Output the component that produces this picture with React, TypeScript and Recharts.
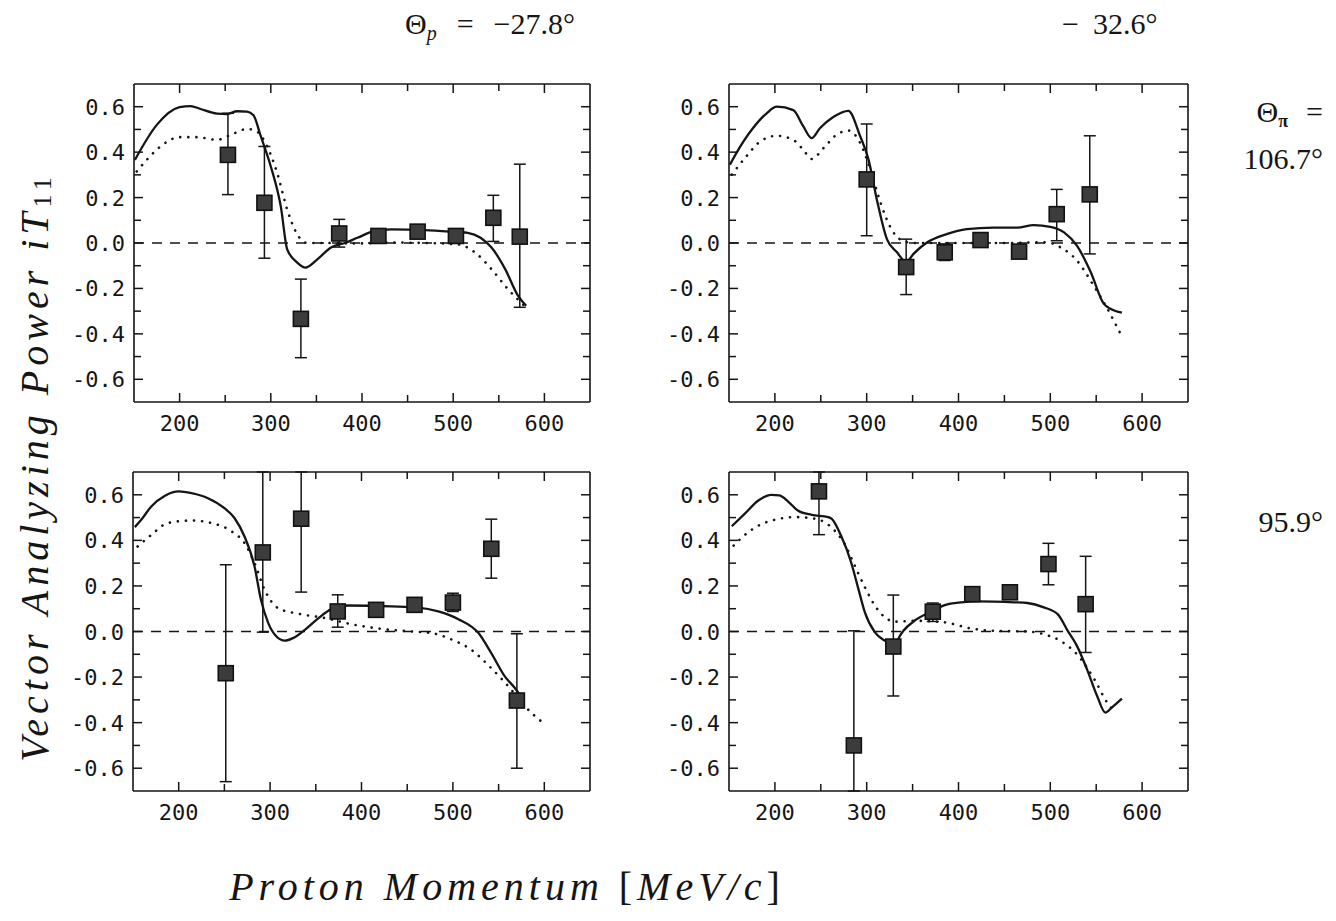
import React from "react";
import {
  ComposedChart,
  Line,
  Scatter,
  ErrorBar,
  XAxis,
  YAxis,
  ReferenceLine,
} from "recharts";

type Pt = [number, number];
// [momentum, iT11, lower end of error bar, upper end of error bar]
type Obs = [number, number, number, number];

const xTicks = [200, 250, 300, 350, 400, 450, 500, 550, 600];
const yTicks = [-0.6, -0.5, -0.4, -0.3, -0.2, -0.1, 0, 0.1, 0.2, 0.3, 0.4, 0.5, 0.6];
const xDomain: [number, number] = [150, 650];
const yDomain: [number, number] = [-0.7, 0.7];

// Θp = -27.8°, Θπ = 106.7°
const tlSolid: Pt[] = [
  [151, 0.366], [175, 0.52], [200, 0.598], [212, 0.603], [223, 0.59], [241, 0.57],
  [252, 0.568], [263, 0.58], [274, 0.578], [281, 0.562], [289, 0.47], [300, 0.337],
  [311, 0.16], [318, -0.028], [329, -0.086], [338, -0.108], [351, -0.072], [366, -0.02],
  [381, 0.0], [395, 0.023], [414, 0.053], [432, 0.06], [469, 0.057], [505, 0.048],
  [516, 0.045], [530, 0.023], [542, -0.02], [557, -0.115], [571, -0.232], [580, -0.276],
];
const tlDotted: Pt[] = [
  [153, 0.315], [164, 0.366], [179, 0.425], [200, 0.466], [219, 0.466], [241, 0.454],
  [256, 0.476], [274, 0.502], [285, 0.49], [296, 0.425], [307, 0.308], [318, 0.147],
  [329, 0.038], [340, 0.0], [358, 0.0], [395, -0.002], [430, 0.002], [470, 0.0],
  [505, -0.006], [524, -0.042], [542, -0.115], [560, -0.203], [578, -0.276],
];
const tlObs: Obs[] = [
  [253, 0.388, 0.213, 0.571],
  [293, 0.177, -0.067, 0.425],
  [333, -0.334, -0.505, -0.159],
  [375, 0.042, -0.018, 0.104],
  [418, 0.031, 0.015, 0.047],
  [461, 0.05, 0.035, 0.065],
  [503, 0.031, 0.015, 0.047],
  [544, 0.111, 0.007, 0.21],
  [573, 0.028, -0.283, 0.347],
];

// Θp = -32.6°, Θπ = 106.7°
const trSolid: Pt[] = [
  [151, 0.345], [158, 0.396], [176, 0.505], [191, 0.571], [202, 0.6], [220, 0.585],
  [231, 0.513], [240, 0.462], [249, 0.505], [264, 0.556], [280, 0.582], [293, 0.469],
  [302, 0.367], [311, 0.192], [322, 0.017], [333, -0.041], [343, -0.084], [351, -0.048],
  [366, 0.003], [387, 0.039], [409, 0.061], [438, 0.068], [464, 0.068], [482, 0.079],
  [500, 0.071], [515, 0.047], [529, -0.012], [544, -0.128], [558, -0.266], [566, -0.291],
  [578, -0.307],
];
const trDotted: Pt[] = [
  [153, 0.301], [169, 0.382], [184, 0.447], [202, 0.472], [220, 0.454], [231, 0.41],
  [240, 0.37], [253, 0.418], [267, 0.476], [280, 0.495], [293, 0.44], [304, 0.323],
  [315, 0.178], [326, 0.068], [336, 0.017], [351, 0.0], [400, 0.0], [450, 0.0],
  [496, 0.003], [511, -0.019], [529, -0.077], [547, -0.186], [562, -0.288], [578, -0.412],
];
const trObs: Obs[] = [
  [300, 0.28, 0.032, 0.524],
  [343, -0.106, -0.227, 0.017],
  [385, -0.041, -0.077, -0.004],
  [424, 0.013, -0.005, 0.03],
  [466, -0.038, -0.055, -0.02],
  [507, 0.127, 0.01, 0.236],
  [543, 0.214, -0.048, 0.472],
];

// Θp = -27.8°, Θπ = 95.9°
const blSolid: Pt[] = [
  [152, 0.458], [159, 0.49], [170, 0.549], [185, 0.596], [200, 0.615], [214, 0.607],
  [232, 0.585], [250, 0.541], [261, 0.498], [272, 0.417], [283, 0.285], [290, 0.139],
  [298, 0.037], [307, -0.022], [316, -0.04], [325, -0.029], [338, 0.007], [353, 0.059],
  [367, 0.098], [385, 0.114], [407, 0.113], [433, 0.11], [462, 0.105], [484, 0.088],
  [506, 0.054], [528, -0.007], [542, -0.095], [557, -0.198], [568, -0.249], [572, -0.271],
];
const blDotted: Pt[] = [
  [155, 0.373], [170, 0.424], [188, 0.476], [214, 0.487], [236, 0.476], [258, 0.439],
  [272, 0.388], [283, 0.3], [294, 0.183], [309, 0.102], [331, 0.078], [360, 0.059],
  [389, 0.032], [425, 0.01], [455, 0.0], [477, -0.007], [498, -0.034], [520, -0.08],
  [542, -0.161], [564, -0.256], [579, -0.329], [599, -0.402],
];
const blObs: Obs[] = [
  [251.5, -0.183, -0.659, 0.293],
  [292, 0.347, -0.003, 0.7],
  [334, 0.495, 0.173, 0.7],
  [374, 0.088, 0.019, 0.161],
  [416, 0.095, 0.08, 0.11],
  [458, 0.117, 0.1, 0.134],
  [500, 0.127, 0.088, 0.168],
  [542, 0.363, 0.234, 0.493],
  [570, -0.303, -0.6, -0.01],
];

// Θp = -32.6°, Θπ = 95.9°
const brSolid: Pt[] = [
  [153, 0.462], [167, 0.516], [182, 0.575], [196, 0.6], [205, 0.597], [215, 0.568],
  [225, 0.531], [240, 0.512], [258, 0.502], [262, 0.494], [272, 0.421], [283, 0.304],
  [291, 0.186], [298, 0.084], [309, -0.004], [320, -0.041], [330, -0.063], [336, -0.02],
  [340, 0.003], [352, 0.047], [367, 0.081], [385, 0.116], [403, 0.128], [421, 0.132],
  [439, 0.131], [461, 0.128], [475, 0.125], [493, 0.106], [508, 0.076], [519, 0.003],
  [529, -0.063], [540, -0.166], [551, -0.283], [560, -0.356], [567, -0.334], [578, -0.295],
];
const brDotted: Pt[] = [
  [155, 0.377], [171, 0.436], [186, 0.472], [204, 0.494], [222, 0.502], [240, 0.497],
  [254, 0.48], [265, 0.443], [276, 0.384], [287, 0.289], [298, 0.194], [309, 0.113],
  [320, 0.062], [330, 0.043], [352, 0.047], [385, 0.04], [414, 0.013], [439, 0.003],
  [475, 0.0], [493, -0.012], [511, -0.041], [529, -0.1], [548, -0.21], [562, -0.312],
  [571, -0.356],
];
const brObs: Obs[] = [
  [248, 0.615, 0.425, 0.7],
  [286, -0.5, -0.7, 0.003],
  [329, -0.066, -0.283, 0.16],
  [372, 0.087, 0.044, 0.125],
  [415, 0.164, 0.15, 0.178],
  [456, 0.172, 0.158, 0.186],
  [498, 0.296, 0.205, 0.387],
  [538.5, 0.12, -0.092, 0.33],
];

const INK = "#151515";
const tickFont = "'DejaVu Sans Mono', monospace";
const serif = "'Liberation Serif', 'DejaVu Serif', serif";

const toLine = (pts: Pt[]) => pts.map(([x, y]) => ({ x, y }));
const toObs = (pts: Obs[]) =>
  pts.map(([x, y, lo, hi]) => ({ x, y, err: [y - lo, hi - y] }));

const isMajorX = (v: number) => v % 100 === 0;
const isMajorY = (v: number) => Math.round(v * 10) % 2 === 0;

// ticks all point into the frame
const BottomTick = (p: any) => {
  const v = p.payload.value;
  const major = isMajorX(v);
  return (
    <g>
      <line x1={p.x} y1={p.y} x2={p.x} y2={p.y - (major ? 9 : 7)} stroke={INK} strokeWidth={1.5} />
      {major && (
        <text x={p.x} y={p.y + 29} textAnchor="middle" fontFamily={tickFont} fontSize={22} fill={INK}>
          {v}
        </text>
      )}
    </g>
  );
};
const TopTick = (p: any) => {
  const major = isMajorX(p.payload.value);
  return <line x1={p.x} y1={p.y} x2={p.x} y2={p.y + (major ? 9 : 7)} stroke={INK} strokeWidth={1.5} />;
};
const LeftTick = (p: any) => {
  const v = p.payload.value;
  const major = isMajorY(v);
  return (
    <g>
      <line x1={p.x} y1={p.y} x2={p.x + (major ? 9 : 7)} y2={p.y} stroke={INK} strokeWidth={1.5} />
      {major && (
        <text x={p.x - 9} y={p.y + 8} textAnchor="end" fontFamily={tickFont} fontSize={22} fill={INK}>
          {v.toFixed(1)}
        </text>
      )}
    </g>
  );
};
const RightTick = (p: any) => {
  const major = isMajorY(p.payload.value);
  return <line x1={p.x} y1={p.y} x2={p.x - (major ? 9 : 7)} y2={p.y} stroke={INK} strokeWidth={1.5} />;
};

const Square = (p: any) => (
  <rect x={p.cx - 7.5} y={p.cy - 7.5} width={15} height={15} fill="#3c3c3c" stroke="#111" strokeWidth={1.6} />
);

interface PanelProps {
  solid: Pt[];
  dotted: Pt[];
  obs: Obs[];
  left: number;
  top: number;
  plotW: number;
  plotH: number;
}

function Panel({ solid, dotted, obs, left, top, plotW, plotH }: PanelProps) {
  // every axis takes 1px, so the plot box starts at margin + 1
  const m = { top: 9, right: 9, bottom: 44, left: 61 };
  const axisLine = { stroke: INK, strokeWidth: 1.6 };
  return (
    <div style={{ position: "absolute", left: left - m.left - 1, top: top - m.top - 1 }}>
      <ComposedChart width={plotW + m.left + m.right + 2} height={plotH + m.top + m.bottom + 2} margin={m}>
        <XAxis
          xAxisId="b"
          dataKey="x"
          type="number"
          domain={xDomain}
          ticks={xTicks}
          interval={0}
          allowDataOverflow
          height={1}
          tickSize={0}
          tickMargin={0}
          tickLine={false}
          axisLine={axisLine}
          tick={<BottomTick />}
        />
        <XAxis
          xAxisId="t"
          orientation="top"
          dataKey="x"
          type="number"
          domain={xDomain}
          ticks={xTicks}
          interval={0}
          allowDataOverflow
          height={1}
          tickSize={0}
          tickMargin={0}
          tickLine={false}
          axisLine={axisLine}
          tick={<TopTick />}
        />
        <YAxis
          yAxisId="l"
          type="number"
          domain={yDomain}
          ticks={yTicks}
          interval={0}
          allowDataOverflow
          width={1}
          tickSize={0}
          tickMargin={0}
          tickLine={false}
          axisLine={axisLine}
          tick={<LeftTick />}
        />
        <YAxis
          yAxisId="r"
          orientation="right"
          type="number"
          domain={yDomain}
          ticks={yTicks}
          interval={0}
          allowDataOverflow
          width={1}
          tickSize={0}
          tickMargin={0}
          tickLine={false}
          axisLine={axisLine}
          tick={<RightTick />}
        />
        <ReferenceLine xAxisId="b" yAxisId="l" y={0} stroke={INK} strokeWidth={1.4} strokeDasharray="10 8" />
        <Line
          xAxisId="b"
          yAxisId="l"
          data={toLine(dotted)}
          dataKey="y"
          type="monotone"
          stroke={INK}
          strokeWidth={2.6}
          strokeDasharray="0.1 8"
          strokeLinecap="round"
          dot={false}
          activeDot={false}
          isAnimationActive={false}
        />
        <Line
          xAxisId="b"
          yAxisId="l"
          data={toLine(solid)}
          dataKey="y"
          type="monotone"
          stroke={INK}
          strokeWidth={2.3}
          dot={false}
          activeDot={false}
          isAnimationActive={false}
        />
        <Scatter
          xAxisId="b"
          yAxisId="l"
          data={toObs(obs)}
          dataKey="y"
          shape={<Square />}
          isAnimationActive={false}
        >
          <ErrorBar dataKey="err" direction="y" width={6} stroke={INK} strokeWidth={1.5} isAnimationActive={false} />
        </Scatter>
      </ComposedChart>
    </div>
  );
}

export default function App() {
  return (
    <div style={{ position: "absolute", left: 0, top: 0, width: 1336, height: 921, background: "#fff" }}>
      <Panel solid={tlSolid} dotted={tlDotted} obs={tlObs} left={134} top={84} plotW={456} plotH={318} />
      <Panel solid={trSolid} dotted={trDotted} obs={trObs} left={729} top={84} plotW={459} plotH={318} />
      <Panel solid={blSolid} dotted={blDotted} obs={blObs} left={133} top={472} plotW={457} plotH={319} />
      <Panel solid={brSolid} dotted={brDotted} obs={brObs} left={729} top={472} plotW={459} plotH={319} />
      <svg width={1336} height={921} style={{ position: "absolute", left: 0, top: 0, pointerEvents: "none" }}>
        <text x={405} y={34} fontFamily={serif} fontSize={30} fill={INK}>
          Θ<tspan fontStyle="italic" fontSize={20} dy={6}>p</tspan>
          <tspan dy={-6} dx={20}>=</tspan>
          <tspan dx={20}>−27.8°</tspan>
        </text>
        <text x={1062} y={34} fontFamily={serif} fontSize={30} fill={INK}>
          −<tspan dx={14}>32.6°</tspan>
        </text>
        <text x={1323} y={122} textAnchor="end" fontFamily={serif} fontSize={30} fill={INK}>
          Θ<tspan fontSize={18} fontWeight="bold" dy={5}>π</tspan>
          <tspan dy={-5} dx={18}>=</tspan>
        </text>
        <text x={1323} y={169} textAnchor="end" fontFamily={serif} fontSize={30} fill={INK}>
          106.7°
        </text>
        <text x={1323} y={532} textAnchor="end" fontFamily={serif} fontSize={30} fill={INK}>
          95.9°
        </text>
        <text
          x={34}
          y={467}
          transform="rotate(-90 34 467)"
          textAnchor="middle"
          dominantBaseline="central"
          fontFamily={serif}
          fontStyle="italic"
          fontSize={40}
          letterSpacing={5}
          fill={INK}
        >
          Vector Analyzing Power iT<tspan fontStyle="normal" fontSize={26} dy={8}>11</tspan>
        </text>
        <text
          x={507}
          y={900}
          textAnchor="middle"
          fontFamily={serif}
          fontStyle="italic"
          fontSize={40}
          letterSpacing={5}
          fill={INK}
        >
          Proton Momentum <tspan fontStyle="normal">[</tspan>MeV/c<tspan fontStyle="normal">]</tspan>
        </text>
      </svg>
    </div>
  );
}
